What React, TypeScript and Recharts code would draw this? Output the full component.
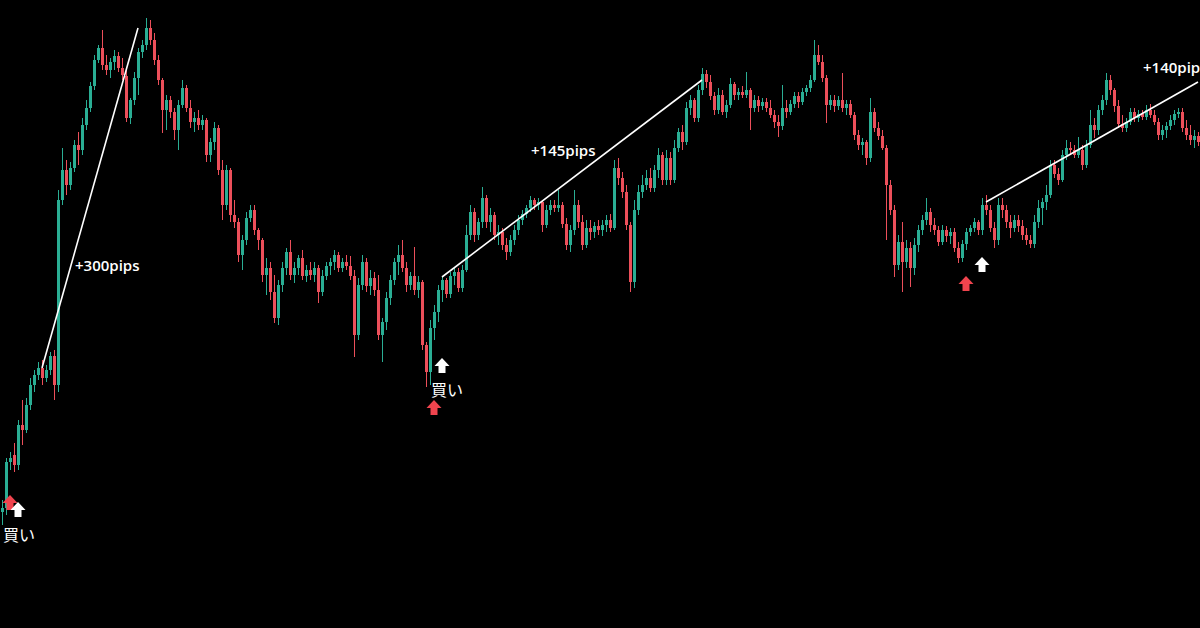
import { ComposedChart, Bar, Cell, XAxis, YAxis, ReferenceLine, ReferenceDot } from 'recharts'

// candle prices (points), one candle per period, left to right
const opens = [
  88, 92, 138, 145, 135, 175, 170, 195, 215, 225,
  232, 222, 230, 244, 215, 400, 430, 415, 432, 455,
  450, 475, 492, 514, 540, 552, 535, 530, 538, 544,
  532, 524, 482, 500, 522, 548, 555, 572, 560, 540,
  520, 490, 500, 488, 470, 495, 512, 492, 478, 482,
  475, 480, 445, 458, 472, 430, 395, 430, 385, 378,
  345, 360, 382, 390, 370, 360, 325, 332, 308, 282,
  315, 332, 348, 325, 332, 342, 324, 330, 325, 332,
  308, 324, 334, 338, 345, 332, 338, 334, 324, 265,
  315, 338, 314, 322, 310, 265, 278, 302, 320, 338,
  345, 332, 315, 324, 310, 318, 255, 228, 272, 288,
  310, 320, 306, 324, 328, 312, 330, 365, 388, 365,
  378, 402, 378, 385, 365, 368, 355, 348, 360, 370,
  380, 386, 392, 400, 395, 398, 375, 390, 395, 392,
  395, 376, 355, 370, 395, 378, 355, 372, 368, 374,
  370, 375, 380, 372, 432, 422, 408, 375, 318, 390,
  408, 415, 422, 412, 430, 445, 420, 442, 420, 452,
  468, 458, 492, 500, 482, 510, 526, 518, 504, 490,
  505, 488, 495, 516, 505, 508, 505, 510, 492, 500,
  494, 498, 492, 485, 478, 474, 492, 488, 496, 504,
  498, 508, 512, 520, 545, 538, 522, 495, 500, 494,
  500, 492, 496, 485, 465, 455, 458, 442, 488, 472,
  464, 452, 415, 390, 335, 358, 338, 352, 332, 355,
  370, 380, 388, 375, 370, 358, 370, 364, 368, 352,
  342, 356, 368, 372, 378, 370, 395, 390, 372, 360,
  395, 390, 378, 372, 380, 374, 365, 360, 356, 378,
  392, 398, 405, 435, 426, 420, 445, 452, 450, 445,
  450, 435, 455, 475, 470, 490, 500, 520, 510, 494,
  476, 472, 478, 488, 482, 486, 483, 490, 485, 478,
  465, 470, 474, 480, 486, 488, 472, 465, 460, 464,
]
const highs = [
  100, 142, 148, 157, 180, 200, 202, 222, 230, 238,
  240, 235, 248, 250, 410, 452, 440, 438, 460, 468,
  482, 500, 518, 545, 555, 570, 545, 542, 550, 548,
  542, 530, 502, 528, 552, 560, 582, 580, 567, 545,
  522, 505, 504, 492, 500, 520, 515, 500, 488, 490,
  485, 482, 462, 478, 475, 440, 435, 432, 400, 382,
  365, 388, 395, 395, 372, 362, 342, 338, 325, 320,
  338, 352, 360, 338, 345, 350, 335, 338, 338, 335,
  330, 338, 342, 350, 348, 342, 345, 344, 330, 322,
  345, 342, 330, 328, 325, 282, 308, 325, 342, 355,
  360, 338, 328, 353, 324, 320, 258, 280, 295, 315,
  324, 322, 328, 332, 332, 335, 375, 395, 392, 382,
  413, 405, 392, 388, 375, 372, 362, 365, 375, 385,
  390, 395, 404, 402, 402, 400, 395, 400, 400, 410,
  398, 382, 375, 410, 400, 385, 380, 380, 378, 380,
  380, 385, 386, 440, 442, 428, 415, 378, 400, 415,
  425, 430, 432, 435, 452, 448, 450, 448, 460, 472,
  475, 498, 505, 502, 515, 532, 530, 525, 508, 512,
  510, 500, 522, 518, 512, 514, 528, 512, 505, 504,
  502, 502, 500, 490, 485, 515, 500, 500, 508, 508,
  512, 515, 525, 560, 555, 545, 525, 505, 505, 504,
  527, 500, 500, 488, 470, 462, 460, 502, 492, 478,
  470, 455, 420, 395, 365, 378, 360, 358, 362, 375,
  385, 402, 392, 382, 374, 375, 374, 372, 372, 358,
  360, 372, 375, 382, 380, 402, 405, 395, 378, 402,
  402, 395, 385, 385, 385, 380, 372, 365, 385, 400,
  402, 415, 440, 440, 432, 450, 460, 458, 455, 463,
  455, 460, 490, 482, 495, 505, 527, 525, 512, 500,
  485, 482, 492, 492, 490, 490, 495, 496, 490, 482,
  475, 478, 485, 490, 492, 492, 480, 475, 470, 468,
]
const lows = [
  75, 85, 130, 128, 130, 155, 167, 190, 208, 220,
  215, 218, 225, 200, 208, 395, 405, 410, 428, 435,
  445, 470, 488, 510, 537, 530, 525, 522, 530, 528,
  520, 478, 476, 495, 505, 542, 550, 555, 535, 515,
  467, 470, 482, 460, 450, 492, 488, 472, 468, 470,
  470, 438, 438, 450, 425, 380, 390, 378, 372, 338,
  330, 355, 378, 365, 350, 318, 305, 300, 277, 275,
  308, 325, 320, 317, 325, 320, 318, 320, 318, 297,
  304, 320, 325, 330, 328, 328, 330, 320, 243, 260,
  310, 308, 305, 304, 260, 238, 270, 295, 315, 325,
  328, 308, 310, 305, 302, 250, 213, 215, 260, 278,
  298, 302, 302, 315, 308, 308, 328, 360, 358, 360,
  372, 372, 368, 360, 355, 350, 340, 344, 355, 365,
  375, 382, 388, 390, 390, 368, 372, 385, 388, 388,
  372, 350, 348, 365, 372, 350, 352, 360, 362, 365,
  364, 368, 368, 370, 415, 402, 370, 308, 312, 385,
  402, 410, 408, 408, 422, 415, 415, 415, 417, 448,
  450, 455, 485, 478, 478, 505, 512, 500, 485, 486,
  485, 482, 492, 500, 500, 502, 502, 470, 488, 488,
  490, 488, 482, 472, 463, 470, 482, 485, 492, 492,
  495, 504, 508, 518, 535, 518, 477, 490, 488, 490,
  488, 485, 482, 460, 450, 445, 435, 438, 468, 460,
  450, 360, 385, 323, 330, 308, 332, 313, 325, 348,
  365, 375, 368, 365, 354, 355, 358, 356, 348, 337,
  338, 350, 364, 368, 365, 365, 385, 368, 352, 355,
  382, 372, 362, 368, 368, 360, 355, 352, 352, 372,
  375, 390, 402, 422, 415, 418, 440, 445, 442, 442,
  430, 432, 452, 462, 465, 485, 495, 505, 488, 472,
  468, 468, 475, 478, 478, 480, 480, 482, 475, 460,
  460, 462, 470, 475, 482, 468, 460, 455, 452, 454,
]
const closes = [
  92, 138, 142, 135, 175, 170, 195, 215, 225, 232,
  222, 230, 244, 215, 400, 430, 415, 432, 455, 450,
  475, 492, 514, 540, 552, 535, 530, 538, 544, 532,
  525, 482, 500, 522, 548, 555, 572, 560, 540, 520,
  490, 500, 488, 470, 495, 512, 492, 478, 482, 475,
  480, 445, 458, 472, 430, 395, 430, 385, 378, 345,
  360, 382, 390, 370, 360, 325, 332, 308, 282, 315,
  332, 348, 325, 332, 342, 324, 330, 325, 332, 308,
  324, 334, 338, 345, 332, 338, 334, 324, 265, 315,
  338, 314, 322, 310, 265, 278, 302, 320, 338, 345,
  332, 315, 324, 310, 318, 255, 228, 272, 288, 310,
  320, 306, 324, 328, 312, 330, 365, 388, 365, 378,
  402, 378, 385, 365, 368, 355, 348, 360, 370, 380,
  386, 392, 400, 395, 398, 375, 390, 395, 392, 395,
  376, 355, 370, 395, 378, 355, 372, 368, 374, 370,
  375, 380, 372, 432, 422, 408, 375, 318, 390, 408,
  415, 422, 412, 430, 445, 420, 442, 420, 452, 468,
  458, 492, 500, 482, 510, 526, 518, 504, 490, 505,
  488, 495, 516, 505, 508, 505, 510, 492, 500, 494,
  498, 492, 485, 478, 474, 492, 488, 496, 504, 498,
  508, 512, 520, 545, 538, 522, 495, 500, 494, 500,
  492, 496, 485, 465, 455, 458, 442, 488, 472, 464,
  452, 415, 390, 335, 358, 338, 352, 332, 355, 370,
  380, 388, 375, 370, 358, 370, 364, 368, 352, 342,
  356, 368, 372, 378, 370, 395, 390, 372, 360, 395,
  390, 378, 372, 380, 374, 365, 360, 356, 378, 392,
  398, 405, 435, 426, 420, 445, 452, 450, 445, 450,
  435, 455, 475, 470, 490, 500, 520, 510, 494, 476,
  472, 478, 488, 482, 486, 483, 490, 485, 478, 465,
  470, 474, 480, 486, 488, 472, 465, 460, 464, 458,
]

// trend lines: [candle index, price] -> [candle index, price]
const trendLines = [
  { from: [10, 232], to: [34, 572] },
  { from: [110, 323], to: [175, 520] },
  { from: [246, 398], to: [299, 518] },
]

const pipLabels = [
  { i: 18, price: 335, text: '+300pips' },
  { i: 132, price: 450, text: '+145pips' },
  { i: 285, price: 533, text: '+140pips' },
]

const buyLabels = [
  { i: 0, price: 66, text: '買い' },
  { i: 107, price: 211, text: '買い' },
]

// signal arrows: red = signal, white = entry
const signalArrows = [
  { i: 2, price: 97, kind: 'signal' },
  { i: 4, price: 90, kind: 'entry' },
  { i: 108, price: 192, kind: 'signal' },
  { i: 110, price: 234, kind: 'entry' },
  { i: 241, price: 316, kind: 'signal' },
  { i: 245, price: 335, kind: 'entry' },
]

const UP = '#2aae94'
const DOWN = '#ec4f5a'

const candles = opens.map((o, i) => ({
  i,
  wick: [lows[i], highs[i]],
  body: [Math.min(o, closes[i]), Math.max(o, closes[i])],
  up: closes[i] >= o,
}))

function arrowShape(color: string) {
  return (p: any) => {
    const { cx, cy } = p
    const d = `M${cx},${cy - 8} L${cx + 7.5},${cy} L${cx + 3.5},${cy} L${cx + 3.5},${cy + 7} L${cx - 3.5},${cy + 7} L${cx - 3.5},${cy} L${cx - 7.5},${cy} Z`
    return <path d={d} fill={color} />
  }
}

function textShape(text: string, family: string, weight: number, size: number) {
  return (p: any) => (
    <text
      x={p.cx + 1}
      y={p.cy}
      fill="#ffffff"
      fontFamily={family}
      fontWeight={weight}
      fontSize={size}
      dominantBaseline="central"
      textAnchor="start"
    >
      {text}
    </text>
  )
}

export default function App() {
  return (
    <div style={{ position: 'fixed', left: 0, top: 0, width: 1200, height: 628, background: '#000' }}>
      <ComposedChart width={1200} height={628} data={candles} margin={{ top: 0, right: 0, bottom: 0, left: 0 }}>
        <XAxis xAxisId="wick" dataKey="i" hide />
        <XAxis xAxisId="body" dataKey="i" hide />
        <YAxis type="number" domain={[-28, 600]} hide allowDataOverflow />
        <Bar xAxisId="wick" dataKey="wick" barSize={1} isAnimationActive={false}>
          {candles.map((c) => (
            <Cell key={`w-${c.i}`} fill={c.up ? UP : DOWN} />
          ))}
        </Bar>
        <Bar xAxisId="body" dataKey="body" barSize={3} isAnimationActive={false}>
          {candles.map((c) => (
            <Cell key={`b-${c.i}`} fill={c.up ? UP : DOWN} />
          ))}
        </Bar>
        {trendLines.map((t, k) => (
          <ReferenceLine
            key={`t-${k}`}
            xAxisId="body"
            segment={[
              { x: t.from[0], y: t.from[1] },
              { x: t.to[0], y: t.to[1] },
            ]}
            stroke="#ffffff"
            strokeWidth={1.6}
          />
        ))}
        {signalArrows.map((a, k) => (
          <ReferenceDot
            key={`a-${k}`}
            xAxisId="body"
            x={a.i}
            y={a.price}
            shape={arrowShape(a.kind === 'signal' ? '#f0444e' : '#ffffff')}
          />
        ))}
        {pipLabels.map((l, k) => (
          <ReferenceDot
            key={`p-${k}`}
            xAxisId="body"
            x={l.i}
            y={l.price}
            shape={textShape(l.text, "'Open Sans', sans-serif", 600, 15)}
          />
        ))}
        {buyLabels.map((l, k) => (
          <ReferenceDot
            key={`k-${k}`}
            xAxisId="body"
            x={l.i}
            y={l.price}
            shape={textShape(l.text, "'Noto Sans CJK JP', sans-serif", 400, 16)}
          />
        ))}
      </ComposedChart>
    </div>
  )
}
